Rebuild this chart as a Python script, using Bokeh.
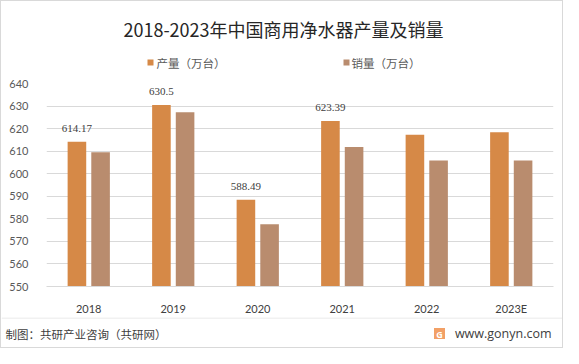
from bokeh.plotting import figure
from bokeh.layouts import column
from bokeh.models import LabelSet, ColumnDataSource, FixedTicker, Range1d, Span
from bokeh.core.properties import value
from bokeh.transform import dodge
from bokeh.embed import file_html
from bokeh.resources import INLINE

years = ["2018", "2019", "2020", "2021", "2022", "2023E"]
production = [614.17, 630.5, 588.49, 623.39, 617.3, 618.4]
sales = [609.5, 627.2, 577.6, 611.8, 605.9, 605.9]
labeled = [True, True, True, True, False, False]
y_ticks = [550, 560, 570, 580, 590, 600, 610, 620, 630, 640]

title = "2018-2023年中国商用净水器产量及销量"
name_prod = "产量（万台）"
name_sales = "销量（万台）"
source_note = "制图：共研产业咨询（共研网）"
site = "www.gonyn.com"

C_PROD = "#D68947"
C_SALES = "#B98C6E"
CJK = "Noto Sans CJK SC"
NUM = "Lato"

W = 561
HH, MH, FH = 74, 242, 30


def blank(h):
    f = figure(width=W, height=h, x_range=Range1d(0, W), y_range=Range1d(h, 0),
               x_axis_type=None, y_axis_type=None, output_backend="svg",
               toolbar_location=None, min_border=0, frame_align=False)
    f.outline_line_color = None
    f.xgrid.visible = False
    f.ygrid.visible = False
    f.background_fill_color = "white"
    f.border_fill_color = "white"
    return f


# ---------- header: title + legend ----------
head = blank(HH)
head.text(x=[282], y=[27], text=[title], text_font=value(CJK), text_font_size="18px",
          text_color="#262626", text_align="center", text_baseline="middle")
head.scatter(x=[149, 345], y=[61, 61], marker="square", size=6,
             fill_color=[C_PROD, C_SALES], line_color=None)
head.text(x=[155, 350], y=[61, 61], text=[name_prod, name_sales], text_font=value(CJK),
          text_font_size="11.5px", text_color="#595959", text_align="left",
          text_baseline="middle")

# ---------- main chart ----------
src = ColumnDataSource(dict(year=years, prod=production, sales=sales))
lab_src = ColumnDataSource(dict(
    year=[y for y, f in zip(years, labeled) if f],
    prod=[v for v, f in zip(production, labeled) if f],
    text=[str(v) for v, f in zip(production, labeled) if f],
))

p = figure(width=W, height=MH, x_range=years, y_range=Range1d(y_ticks[0], y_ticks[-1]),
           output_backend="svg", toolbar_location=None, frame_align=False,
           min_border_left=45, min_border_right=9, min_border_top=8, min_border_bottom=28)
p.outline_line_color = None
p.background_fill_color = "white"
p.border_fill_color = "white"

p.vbar(x=dodge("year", -0.14, range=p.x_range), top="prod", bottom=y_ticks[0], width=0.22,
       source=src, fill_color=C_PROD, line_color=None)
p.vbar(x=dodge("year", 0.14, range=p.x_range), top="sales", bottom=y_ticks[0], width=0.22,
       source=src, fill_color=C_SALES, line_color=None)

p.add_layout(LabelSet(x=dodge("year", -0.14, range=p.x_range), y="prod", text="text",
                      source=lab_src, text_align="center", text_baseline="middle",
                      y_offset=13, text_font_size="11px", text_color="#404040",
                      text_font=NUM))

p.xgrid.grid_line_color = None
p.ygrid.grid_line_color = "#d9d9d9"
p.ygrid.ticker = FixedTicker(ticks=y_ticks)

p.yaxis.ticker = FixedTicker(ticks=y_ticks)
p.yaxis.axis_line_color = None
p.yaxis.major_tick_line_color = None
p.yaxis.minor_tick_line_color = None
p.yaxis.major_label_text_font_size = "11px"
p.yaxis.major_label_text_color = "#595959"
p.yaxis.major_label_text_font = NUM
p.yaxis.major_label_standoff = 12

p.xaxis.axis_line_color = "#d9d9d9"
p.xaxis.major_tick_line_color = None
p.xaxis.minor_tick_line_color = None
p.xaxis.major_label_text_font_size = "11px"
p.xaxis.major_label_text_color = "#404040"
p.xaxis.major_label_text_font = NUM
p.xaxis.major_label_standoff = 9

# ---------- footer ----------
foot = blank(FH)
foot.add_layout(Span(location=0.5, dimension="width", line_color="#e3e3e3", line_width=1))
foot.text(x=[4], y=[16], text=[source_note], text_font=value(CJK), text_font_size="11.5px",
          text_color="#404040", text_align="left", text_baseline="middle")
foot.text(x=[550], y=[16], text=[site], text_font=value("Open Sans"), text_font_size="12.5px",
          text_color="#404040", text_align="right", text_baseline="middle")
foot.scatter(x=[438], y=[16], marker="square", size=11, fill_color="#F2A066",
             line_color=None)
foot.text(x=[438], y=[16.5], text=["G"], text_font=value("Open Sans"), text_font_size="9px",
          text_font_style="bold", text_color="white", text_align="center",
          text_baseline="middle")

layout = column(head, p, foot, spacing=0,
                styles={"border": "1px solid #d9d9d9", "background-color": "white"})

open("out.html", "w").write(file_html(layout, INLINE))
